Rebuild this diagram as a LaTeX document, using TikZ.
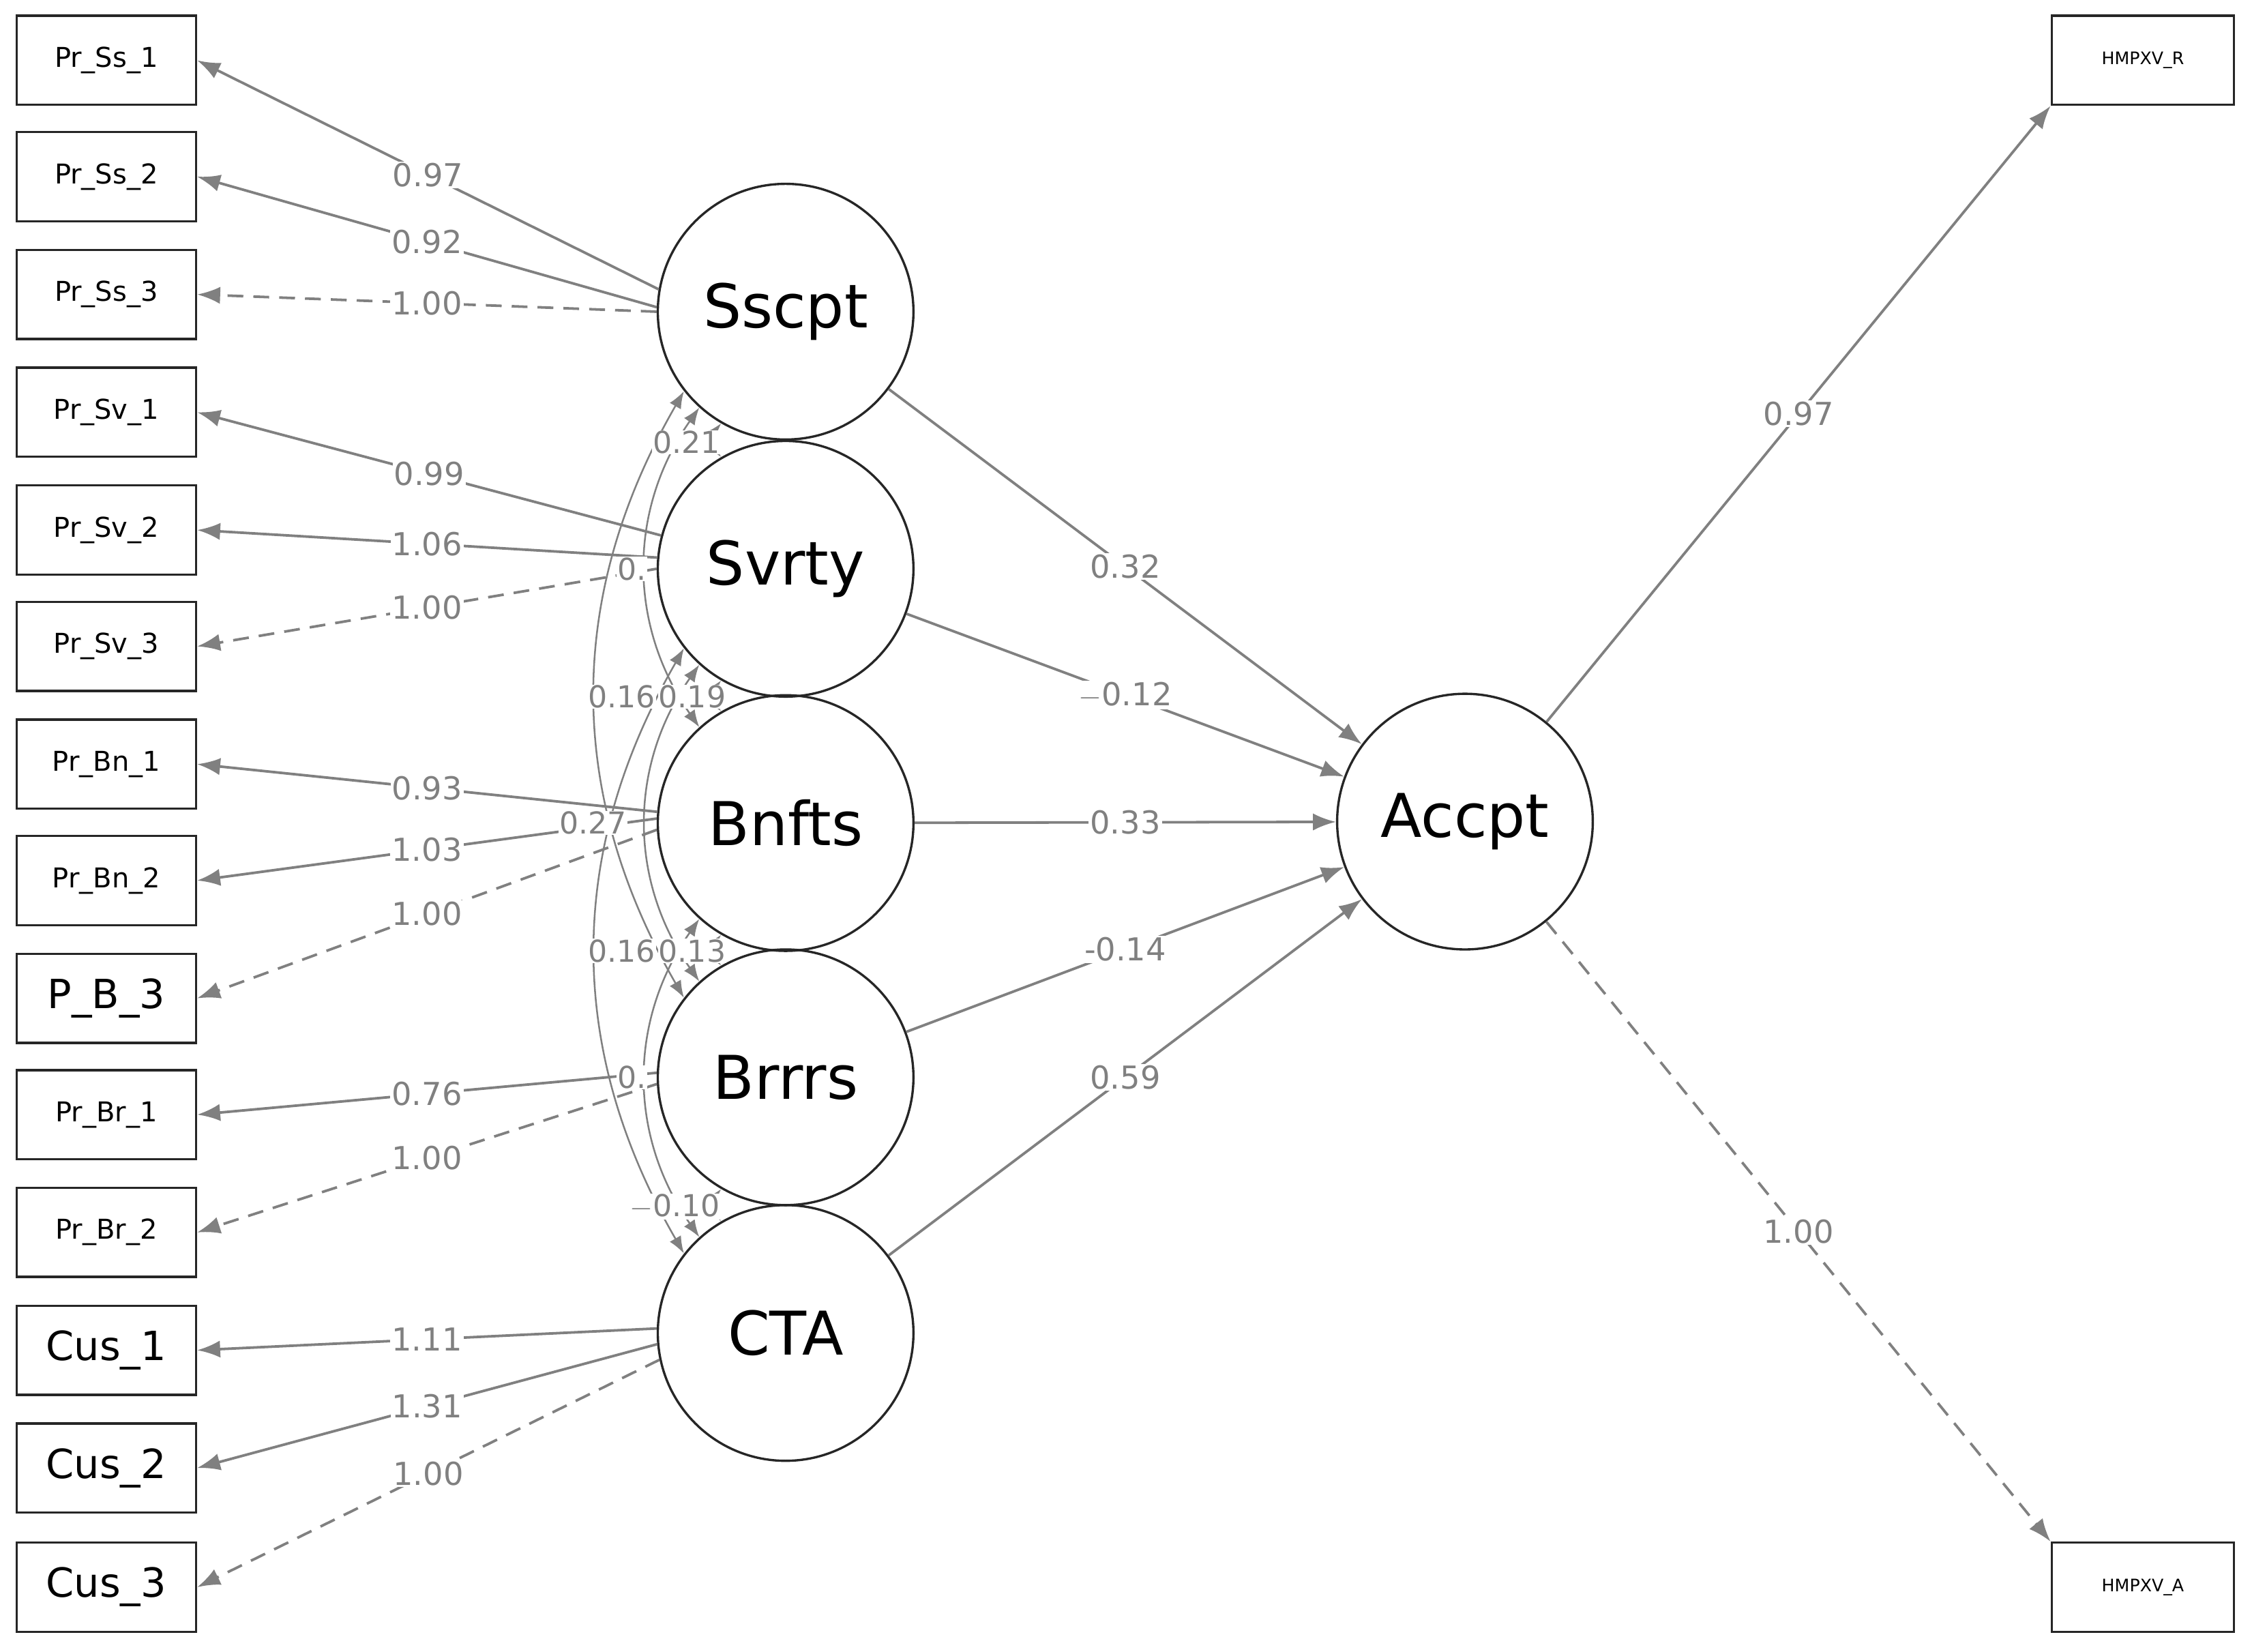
\documentclass[tikz,border=0pt]{standalone}
\usepackage{fontspec}
\setmainfont{DejaVu Sans}
\usetikzlibrary{arrows.meta}
\begin{document}
\begin{tikzpicture}[x=1pt,y=-1pt,
 box/.style={draw=black!85,line width=1.6pt,minimum width=125pt,minimum height=62pt,inner sep=0pt,font=\fontsize{19}{19}\selectfont},
 bigbox/.style={box,font=\fontsize{28}{28}\selectfont},
 hbox/.style={box,minimum width=127pt,font=\fontsize{12}{12}\selectfont},
 lat/.style={circle,draw=black!85,line width=1.6pt,minimum size=178pt,inner sep=0pt,font=\fontsize{42}{42}\selectfont},
 ed/.style={draw=gray,line width=1.8pt,-{Latex[length=16pt,width=12pt]}},
 da/.style={ed,dash pattern=on 11pt off 7pt},
 lb/.style={midway,fill=white,inner sep=1pt,text=gray,font=\fontsize{22}{22}\selectfont},
 cov/.style={draw=gray,line width=1.2pt,{Latex[length=12pt,width=9pt]}-{Latex[length=12pt,width=9pt]}},
 cl/.style={fill=white,inner sep=0.5pt,text=gray,font=\fontsize{21}{21}\selectfont}]
\useasboundingbox (0,0) rectangle (1568,1150);
\foreach \n/\t/\y/\s in {a1/Pr\_Ss\_1/42/box,a2/Pr\_Ss\_2/123/box,a3/Pr\_Ss\_3/205/box,
 b1/Pr\_Sv\_1/287/box,b2/Pr\_Sv\_2/369/box,b3/Pr\_Sv\_3/450/box,
 c1/Pr\_Bn\_1/532/box,c2/Pr\_Bn\_2/613/box,c3/P\_B\_3/695/bigbox,
 d1/Pr\_Br\_1/776/box,d2/Pr\_Br\_2/858/box,
 e1/Cus\_1/940/bigbox,e2/Cus\_2/1022/bigbox,e3/Cus\_3/1105/bigbox}
 \node[\s] (\n) at (74,\y) {\t};
\node[lat] (S) at (547,217) {Sscpt};
\node[lat] (V) at (547,396) {Svrty};
\node[lat] (B) at (547,573) {Bnfts};
\node[lat] (R) at (547,750) {Brrrs};
\node[lat] (C) at (547,928) {CTA};
\node[lat] (A) at (1020,572) {Accpt};
\node[hbox] (HR) at (1492,42) {HMPXV\_R};
\node[hbox] (HA) at (1492,1105) {HMPXV\_A};
% loadings
\draw[ed] (S.170) -- (a1.east) node[lb]{0.97};
\draw[ed] (S.178) -- (a2.east) node[lb]{0.92};
\draw[da] (S.180) -- (a3.east) node[lb]{1.00};
\draw[ed] (V.165) -- (b1.east) node[lb]{0.99};
\draw[ed] (V.175) -- (b2.east) node[lb]{1.06};
\draw[da] (V.180) -- (b3.east) node[lb]{1.00};
\draw[ed] (B.175) -- (c1.east) node[lb]{0.93};
\draw[ed] (B.178) -- (c2.east) node[lb]{1.03};
\draw[da] (B.183) -- (c3.east) node[lb]{1.00};
\draw[ed] (R.178) -- (d1.east) node[lb]{0.76};
\draw[da] (R.183) -- (d2.east) node[lb]{1.00};
\draw[ed] (C.178) -- (e1.east) node[lb]{1.11};
\draw[ed] (C.185) -- (e2.east) node[lb]{1.31};
\draw[da] (C.192) -- (e3.east) node[lb]{1.00};
% structural
\draw[ed] (S) -- (A) node[lb]{0.32};
\draw[ed] (V) -- (A) node[lb]{$-$0.12};
\draw[ed] (B) -- (A) node[lb]{0.33};
\draw[ed] (R) -- (A) node[lb]{-0.14};
\draw[ed] (C) -- (A) node[lb]{0.59};
\draw[ed] (A) -- (HR.south west) node[lb]{0.97};
\draw[da] (A) -- (HA.north west) node[lb]{1.00};
% covariances
\draw[cov] (S.240) to[bend right=40] (V.120);
\draw[cov] (V.240) to[bend right=40] (B.120);
\draw[cov] (B.240) to[bend right=40] (R.120);
\draw[cov] (R.240) to[bend right=40] (C.120);
\draw[cov] (S.228) to[bend right=35] (B.132);
\draw[cov] (V.228) to[bend right=35] (R.132);
\draw[cov] (B.228) to[bend right=35] (C.132);
\draw[cov] (S.218) to[bend right=30] (R.142);
\draw[cov] (V.218) to[bend right=30] (C.142);
\node[cl] (k1) at (478,308) {0.21};
\node[cl] (k2) at (482,485) {0.19};
\node[cl] (k3) at (482,662) {0.13};
\node[cl] (k4) at (470,840) {$-$0.10};
\node[cl] (k5) at (433,485) {0.16};
\node[cl] (k6) at (413,573) {0.27};
\node[cl] (k7) at (433,662) {0.16};
\node[cl] (k8) at (440,396) {0.};
\node[cl] (k9) at (440,750) {0.};
\end{tikzpicture}
\end{document}
